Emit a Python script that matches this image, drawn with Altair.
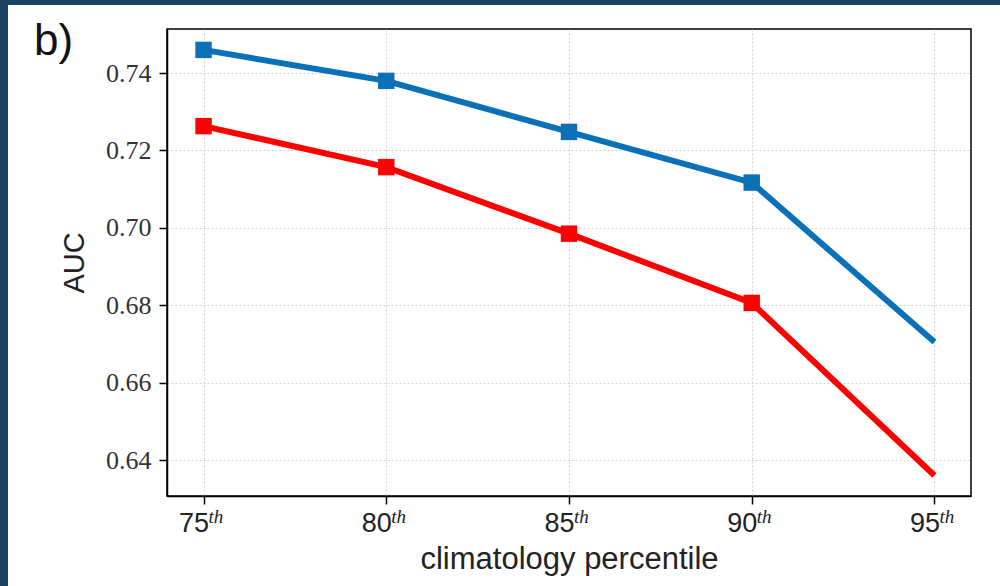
import altair as alt
import pandas as pd

percentiles = [75, 80, 85, 90, 95]
auc_blue = [0.7460, 0.7380, 0.7248, 0.7117, 0.6705]
auc_red = [0.7263, 0.7157, 0.6985, 0.6806, 0.6360]
has_marker = [True, True, True, True, False]
series_names = ["blue", "red"]
series_colors = ["#0a70b8", "#ff0000"]
y_ticks = [0.64, 0.66, 0.68, 0.70, 0.72, 0.74]

rows = []
for name, vals in zip(series_names, [auc_blue, auc_red]):
    for p, v, m in zip(percentiles, vals, has_marker):
        rows.append({"series": name, "percentile": p, "auc": v, "marker": m})
df = pd.DataFrame(rows)
df_ticks = pd.DataFrame({"percentile": percentiles})

W, H = 804, 467
NAVY = "#1f4160"

xscale = alt.Scale(domain=[74, 96], nice=False, zero=False)
yscale = alt.Scale(domain=[0.6307, 0.7514], nice=False, zero=False)
cscale = alt.Scale(domain=series_names, range=series_colors)

x_axis = alt.Axis(
    values=percentiles, title="climatology percentile",
    labelFont="Liberation Sans", labelFontSize=27, labelColor="#222",
    labelAlign="right", labelOffset=5, labelPadding=6,
    titleFont="Liberation Sans", titleFontSize=31, titleFontWeight="normal",
    titleColor="#222", titleY=72, titleBaseline="alphabetic",
    tickSize=8, tickWidth=1.5, tickColor="black",
    domainColor="black", domainWidth=1.5,
    grid=True, gridColor="#d2d2d2", gridDash=[2, 2], gridWidth=1,
)
y_axis = alt.Axis(
    values=y_ticks, format=".2f", title="AUC",
    labelFont="Liberation Serif", labelFontSize=26, labelColor="#333",
    labelPadding=8,
    titleFont="Liberation Sans", titleFontSize=29, titleFontWeight="normal",
    titleColor="#222", titleX=-84, titleY=H / 2, titleBaseline="alphabetic",
    titleAngle=270,
    tickSize=8, tickWidth=1.5, tickColor="black",
    domainColor="black", domainWidth=1.5,
    grid=True, gridColor="#d2d2d2", gridDash=[2, 2], gridWidth=1,
)

base = alt.Chart(df).encode(
    x=alt.X("percentile:Q", scale=xscale, axis=x_axis),
    y=alt.Y("auc:Q", scale=yscale, axis=y_axis),
    color=alt.Color("series:N", scale=cscale, legend=None),
)

lines = base.mark_line(strokeWidth=6).encode(detail="series:N")
points = base.transform_filter("datum.marker").mark_square(size=270, opacity=1, filled=True)

sup = alt.Chart(df_ticks).mark_text(
    align="left", baseline="alphabetic", font="Liberation Serif",
    fontStyle="italic", fontSize=19, color="#222", dx=5
).encode(
    x=alt.X("percentile:Q", scale=xscale),
    y=alt.value(H + 27),
    text=alt.value("th"),
)

frame_df = pd.DataFrame({"k": [0]})
left_strip = alt.Chart(frame_df).mark_rect(color=NAVY).encode(
    x=alt.value(-167), x2=alt.value(-159), y=alt.value(-29), y2=alt.value(H + 90)
)
top_strip = alt.Chart(frame_df).mark_rect(color=NAVY).encode(
    x=alt.value(-167), x2=alt.value(W + 29), y=alt.value(-29), y2=alt.value(-24)
)
label_b = alt.Chart(frame_df).mark_text(
    align="left", baseline="alphabetic", font="Liberation Sans", fontSize=44, color="#111"
).encode(x=alt.value(-133), y=alt.value(26), text=alt.value("b)"))

chart = alt.layer(lines, points, sup, left_strip, top_strip, label_b).properties(
    width=W, height=H,
    padding={"left": 167, "top": 29, "right": 29, "bottom": 90},
    autosize=alt.AutoSizeParams(type="none"),
    background="white",
).configure_view(stroke="black", strokeWidth=1.5)

chart.save("out.html", embed_options={"renderer": "svg", "actions": False})
